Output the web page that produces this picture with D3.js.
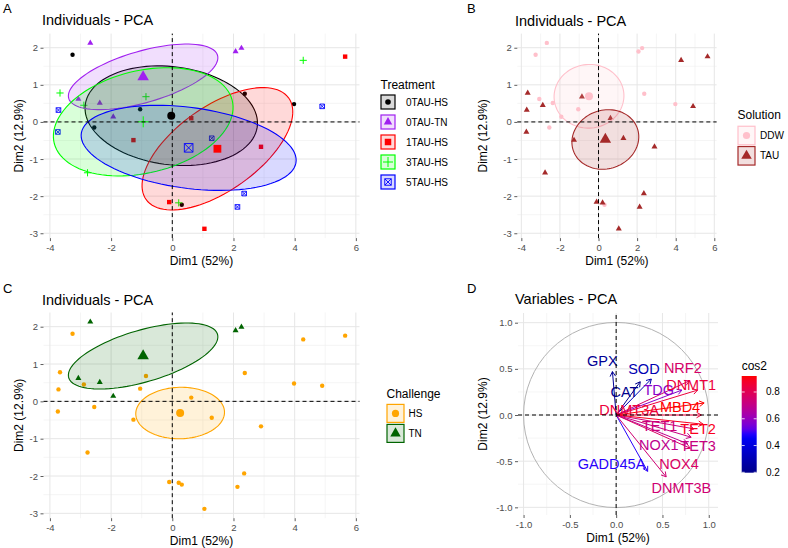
<!DOCTYPE html>
<html>
<head>
<meta charset="utf-8">
<script src="https://cdn.jsdelivr.net/npm/d3@7"></script>
<style>
  body { margin: 0; background: #fff; }
  svg text { font-family: "Liberation Sans", Arial, Helvetica, sans-serif; }
</style>
</head>
<body>
<svg id="chart" width="788" height="548"></svg>
<script>
// ---- data: individuals (PCA coordinates on Dim1 / Dim2) ----
const indTreatment = [
  "0TAU-HS", "0TAU-HS", "0TAU-HS", "0TAU-HS", "0TAU-HS", "0TAU-HS",
  "0TAU-TN", "0TAU-TN", "0TAU-TN", "0TAU-TN", "0TAU-TN", "0TAU-TN",
  "1TAU-HS", "1TAU-HS", "1TAU-HS", "1TAU-HS", "1TAU-HS", "1TAU-HS",
  "3TAU-HS", "3TAU-HS", "3TAU-HS", "3TAU-HS", "3TAU-HS", "3TAU-HS",
  "5TAU-HS", "5TAU-HS", "5TAU-HS", "5TAU-HS", "5TAU-HS", "5TAU-HS"
];
const indDim1 = [
  -3.26, -1.05, -2.55, 2.37, 3.98, 0.31,
  -2.68, 2.07, 2.26, -3.07, -2.37, -1.93,
  5.65, 0.62, -1.27, 2.90, -0.10, 1.05,
  4.28, -3.67, -0.86, -2.89, -2.77, 0.21,
  -3.72, -3.74, 4.90, 1.29, 2.35, 2.13
];
const indDim2 = [
  1.81, 0.34, -0.15, 0.76, 0.48, -2.23,
  2.13, 1.90, 1.99, 0.62, 0.51, 0.14,
  1.76, 0.10, -0.49, -0.67, -2.16, -2.88,
  1.66, 0.78, 0.68, 0.45, -1.37, -2.18,
  0.32, -0.27, 0.42, -0.44, -1.93, -2.29
];

const treatments = ["0TAU-HS", "0TAU-TN", "1TAU-HS", "3TAU-HS", "5TAU-HS"];
const treatmentColors = ["#000000", "#A020F0", "#FF0000", "#00FF00", "#0000FF"];
const treatmentShapes = ["circle", "triangle", "square", "plus", "squareX"];

const solutions = ["DDW", "TAU"];
const solutionColors = ["#FFC0CB", "#A52A2A"];
const solutionShapes = ["circle", "triangle"];

const challenges = ["HS", "TN"];
const challengeColors = ["#FFA500", "#006400"];
const challengeShapes = ["circle", "triangle"];

// ---- data: variables ----
const variables = ["GPX", "SOD", "NRF2", "CAT", "TDG", "DNMT1", "DNMT3A", "MBD4",
  "TET1", "TET2", "TET3", "NOX1", "NOX4", "GADD45A", "DNMT3B"];
const varDim1 = [-0.04, 0.38, 0.79, 0.26, 0.71, 0.88, 0.92, 0.95, 0.84, 0.94, 0.81, 0.77, 0.80, 0.34, 0.54];
const varDim2 = [0.47, 0.39, 0.37, 0.36, 0.27, 0.27, 0.00, 0.13, -0.15, -0.10, -0.24, -0.31, -0.36, -0.61, -0.67];
// where the (repelled) labels ended up, in Dim units
const labelDim1 = [-0.15, 0.30, 0.72, 0.09, 0.46, 0.81, 0.14, 0.69, 0.47, 0.885, 0.885, 0.46, 0.68, -0.05, 0.705];
const labelDim2 = [0.59, 0.505, 0.516, 0.253, 0.278, 0.332, 0.061, 0.09, -0.119, -0.152, -0.332, -0.325, -0.523, -0.523, -0.787];

const indTicksX = [-4, -2, 0, 2, 4, 6];
const indMinorX = [-3, -1, 1, 3, 5];
const indTicksY = [-3, -2, -1, 0, 1, 2];
const indMinorY = [-2.5, -1.5, -0.5, 0.5, 1.5];
const varTicks = [-1, -0.5, 0, 0.5, 1];
const varMinor = [-0.75, -0.25, 0.25, 0.75];
const cosTicks = [0.2, 0.4, 0.6, 0.8];

const svg = d3.select("#chart");
const FONT = '"Liberation Sans", Arial, Helvetica, sans-serif';

const inds = indDim1.map((v, i) => ({
  x: v, y: indDim2[i],
  treatment: indTreatment[i],
  solution: indTreatment[i].startsWith("0TAU") ? "DDW" : "TAU",
  challenge: indTreatment[i].endsWith("TN") ? "TN" : "HS"
}));

function expand(ext, m) {
  const w = ext[1] - ext[0];
  return [ext[0] - w * m, ext[1] + w * m];
}
const indXDomain = expand(d3.extent(indDim1), 0.05);
const indYDomain = expand(d3.extent(indDim2), 0.05);

// symbol sizes (px) per role
const sizes = {
  small: { circle: 4.4, triangle: 6, square: 4.4, plus: 3.6, squareX: 4.6 },
  mean: { circle: 8, triangle: 11.5, square: 7.8, plus: 5.5, squareX: 8.6 },
  keyA: { circle: 5.6, triangle: 8.5, square: 6.5, plus: 5, squareX: 6.5 },
  keyB: { circle: 7.2, triangle: 10.5, square: 7, plus: 5, squareX: 7 }
};
const filledShape = { circle: true, triangle: true, square: true, plus: false, squareX: false };

function symbolPath(shape, s) {
  if (shape === "circle") {
    const r = s / 2;
    return `M${-r},0A${r},${r} 0 1,1 ${r},0A${r},${r} 0 1,1 ${-r},0Z`;
  }
  if (shape === "triangle") {
    const a = s, h = a * Math.sqrt(3) / 2;
    return `M0,${-2 * h / 3}L${a / 2},${h / 3}L${-a / 2},${h / 3}Z`;
  }
  if (shape === "square") {
    const a = s / 2;
    return `M${-a},${-a}H${a}V${a}H${-a}Z`;
  }
  if (shape === "plus") {
    return `M${-s},0H${s}M0,${-s}V${s}`;
  }
  const a = s / 2;
  return `M${-a},${-a}H${a}V${a}H${-a}Z M${-a},${-a}L${a},${a}M${a},${-a}L${-a},${a}`;
}

function drawSymbol(g, shape, s, color, x, y) {
  const p = g.append("path")
    .attr("d", symbolPath(shape, s))
    .attr("transform", `translate(${x},${y})`);
  if (filledShape[shape]) p.attr("fill", color).attr("stroke", "none");
  else p.attr("fill", "none").attr("stroke", color).attr("stroke-width", shape === "plus" ? 1 : 0.9);
  return p;
}

// 95% confidence ellipse of the group mean (as in ggpubr stat_conf_ellipse)
function confEllipse(xs, ys) {
  const n = xs.length, mx = d3.mean(xs), my = d3.mean(ys);
  let sxx = 0, syy = 0, sxy = 0;
  xs.forEach((v, i) => {
    sxx += (v - mx) * (v - mx);
    syy += (ys[i] - my) * (ys[i] - my);
    sxy += (v - mx) * (ys[i] - my);
  });
  sxx /= (n - 1) * n; syy /= (n - 1) * n; sxy /= (n - 1) * n;
  const sx = Math.sqrt(sxx), sy = Math.sqrt(syy);
  const d = Math.acos(sxy / (sx * sy));
  const t = Math.sqrt(5.991465);
  return d3.range(101).map(k => {
    const a = 2 * Math.PI * k / 100;
    return [mx + t * sx * Math.cos(a + d / 2), my + t * sy * Math.cos(a - d / 2)];
  });
}

function gridAndAxes(g, x, y, p, xt, xm, yt, ym, fmt) {
  const [x0, x1] = x.range(), [y0, y1] = y.range();
  const grid = g.append("g");
  grid.selectAll("line.vmin").data(xm).join("line")
    .attr("x1", d => x(d)).attr("x2", d => x(d)).attr("y1", y0).attr("y2", y1)
    .attr("stroke", "#EFEFEF").attr("stroke-width", 0.6);
  grid.selectAll("line.hmin").data(ym).join("line")
    .attr("y1", d => y(d)).attr("y2", d => y(d)).attr("x1", x0).attr("x2", x1)
    .attr("stroke", "#EFEFEF").attr("stroke-width", 0.6);
  grid.selectAll("line.vmaj").data(xt).join("line")
    .attr("x1", d => x(d)).attr("x2", d => x(d)).attr("y1", y0).attr("y2", y1)
    .attr("stroke", "#E6E6E6").attr("stroke-width", 1);
  grid.selectAll("line.hmaj").data(yt).join("line")
    .attr("y1", d => y(d)).attr("y2", d => y(d)).attr("x1", x0).attr("x2", x1)
    .attr("stroke", "#E6E6E6").attr("stroke-width", 1);

  const ax = g.append("g").attr("transform", `translate(0,${p.bottom})`)
    .call(d3.axisBottom(x).tickValues(xt).tickSize(3).tickPadding(3.5).tickFormat(fmt));
  const ay = g.append("g").attr("transform", `translate(${p.left},0)`)
    .call(d3.axisLeft(y).tickValues(yt).tickSize(3).tickPadding(2.5).tickFormat(fmt));
  [ax, ay].forEach(a => {
    a.select(".domain").remove();
    a.selectAll("line").attr("stroke", "#333333").attr("stroke-width", 0.8);
    a.selectAll("text").attr("fill", "#4D4D4D").style("font-size", "9.5px").style("font-family", FONT);
  });

  g.append("text").attr("x", p.letterX).attr("y", p.letterY).text(p.letter)
    .style("font-size", "13px").attr("fill", "#000");
  g.append("text").attr("x", p.titleX).attr("y", p.titleY).text(p.title)
    .style("font-size", "14.5px").attr("fill", "#000");
  g.append("text").attr("x", (p.left + p.right) / 2).attr("y", p.bottom + 26.5)
    .attr("text-anchor", "middle").text("Dim1 (52%)").style("font-size", "12px");
  g.append("text").attr("transform", `translate(${p.ytitleX},${(p.top + p.bottom) / 2}) rotate(-90)`)
    .attr("text-anchor", "middle").text("Dim2 (12.9%)").style("font-size", "12px");
}

function zeroLines(g, x, y) {
  const [x0, x1] = x.range(), [y0, y1] = y.range();
  g.append("line").attr("x1", x0).attr("x2", x1).attr("y1", y(0)).attr("y2", y(0))
    .attr("stroke", "#000").attr("stroke-width", 1).attr("stroke-dasharray", "4,3");
  g.append("line").attr("x1", x(0)).attr("x2", x(0)).attr("y1", y0).attr("y2", y1)
    .attr("stroke", "#000").attr("stroke-width", 1).attr("stroke-dasharray", "4,3");
}

function legend(g, L) {
  g.append("text").attr("x", L.x).attr("y", L.titleY).text(L.title).style("font-size", "12px");
  L.groups.forEach((grp, i) => {
    const cy = L.firstY + i * L.pitch;
    g.append("rect").attr("x", L.x + 0.5).attr("y", cy - L.h / 2).attr("width", L.w).attr("height", L.h)
      .attr("fill", L.colors[i]).attr("fill-opacity", 0.15)
      .attr("stroke", L.colors[i]).attr("stroke-width", 1.2);
    drawSymbol(g, L.shapes[i], L.sizes[L.shapes[i]], L.colors[i], L.x + 0.5 + L.w / 2, cy);
    g.append("text").attr("x", L.textX).attr("y", cy).attr("dy", "0.35em").text(grp)
      .style("font-size", "10px");
  });
}

function indPanel(p) {
  const g = svg.append("g");
  const x = d3.scaleLinear().domain(indXDomain).range([p.left, p.right]);
  const y = d3.scaleLinear().domain(indYDomain).range([p.bottom, p.top]);
  gridAndAxes(g, x, y, p, indTicksX, indMinorX, indTicksY, indMinorY, d => String(d));

  const colorOf = grp => p.colors[p.groups.indexOf(grp)];
  const shapeOf = grp => p.shapes[p.groups.indexOf(grp)];

  // individual points
  const pts = g.append("g");
  inds.forEach(d => {
    const grp = d[p.key];
    drawSymbol(pts, shapeOf(grp), sizes.small[shapeOf(grp)], colorOf(grp), x(d.x), y(d.y));
  });

  // confidence ellipses
  const line = d3.line().x(d => x(d[0])).y(d => y(d[1]));
  p.groups.forEach((grp, i) => {
    const sub = inds.filter(d => d[p.key] === grp);
    const e = confEllipse(sub.map(d => d.x), sub.map(d => d.y));
    g.append("path").attr("d", line(e) + "Z")
      .attr("fill", p.colors[i]).attr("fill-opacity", 0.15)
      .attr("stroke", p.colors[i]).attr("stroke-width", 1.1);
  });

  // group means
  p.groups.forEach((grp, i) => {
    const sub = inds.filter(d => d[p.key] === grp);
    const mx = d3.mean(sub, d => d.x), my = d3.mean(sub, d => d.y);
    drawSymbol(g, p.shapes[i], sizes.mean[p.shapes[i]], p.colors[i], x(mx), y(my));
  });

  zeroLines(g, x, y);
  legend(g, p.legend);
}

// ---- Panel A ----
indPanel({
  left: 43.5, right: 359.5, top: 33.6, bottom: 238.1,
  letter: "A", letterX: 3, letterY: 12.7, title: "Individuals - PCA", titleX: 42, titleY: 25,
  ytitleX: 23,
  key: "treatment", groups: treatments, colors: treatmentColors, shapes: treatmentShapes,
  legend: { x: 380.5, title: "Treatment", titleY: 89, groups: treatments, colors: treatmentColors,
    shapes: treatmentShapes, sizes: sizes.keyA, firstY: 102, pitch: 20, w: 14, h: 14, textX: 406 }
});

// ---- Panel B ----
indPanel({
  left: 517.3, right: 716.6, top: 33.6, bottom: 238.1,
  letter: "B", letterX: 467, letterY: 12.7, title: "Individuals - PCA", titleX: 515, titleY: 25.7,
  ytitleX: 486.5,
  key: "solution", groups: solutions, colors: solutionColors, shapes: solutionShapes,
  legend: { x: 737.5, title: "Solution", titleY: 119, groups: solutions, colors: solutionColors,
    shapes: solutionShapes, sizes: sizes.keyB, firstY: 135.5, pitch: 20.3, w: 17, h: 18.5, textX: 760 }
});

// ---- Panel C ----
indPanel({
  left: 43.5, right: 359.5, top: 312.5, bottom: 518.2,
  letter: "C", letterX: 3, letterY: 293.3, title: "Individuals - PCA", titleX: 42, titleY: 305,
  ytitleX: 23,
  key: "challenge", groups: challenges, colors: challengeColors, shapes: challengeShapes,
  legend: { x: 386.5, title: "Challenge", titleY: 397.5, groups: challenges, colors: challengeColors,
    shapes: challengeShapes, sizes: sizes.keyB, firstY: 413.4, pitch: 20, w: 17, h: 18, textX: 408.5 }
});

// ---- Panel D: variables ----
(function () {
  const p = {
    left: 518, right: 718, top: 313, bottom: 515,
    letter: "D", letterX: 467, letterY: 293.3, title: "Variables - PCA", titleX: 515, titleY: 304.3,
    ytitleX: 486.5
  };
  const g = svg.append("g");
  const x = d3.scaleLinear().domain([-1.06, 1.10]).range([p.left, p.right]);
  const y = d3.scaleLinear().domain([-1.083, 1.105]).range([p.bottom, p.top]);
  gridAndAxes(g, x, y, p, varTicks, varMinor, varTicks, varMinor, d => d.toFixed(1));

  const vars = variables.map((name, i) => ({
    name, x: varDim1[i], y: varDim2[i], lx: labelDim1[i], ly: labelDim2[i],
    cos2: varDim1[i] * varDim1[i] + varDim2[i] * varDim2[i]
  }));
  const cExt = d3.extent(vars, d => d.cos2);
  const color = d3.scaleLinear().domain([cExt[0], 0.48, cExt[1]])
    .range(["#00008B", "#0000FF", "#FF0000"]).interpolate(d3.interpolateLab);

  // correlation circle
  g.append("circle").attr("cx", x(0)).attr("cy", y(0)).attr("r", x(1) - x(0))
    .attr("fill", "none").attr("stroke", "#B3B3B3").attr("stroke-width", 1);

  // arrows
  const head = 5.5, ang = Math.PI / 6;
  vars.forEach(d => {
    const x1 = x(d.x), y1 = y(d.y);
    const th = Math.atan2(y1 - y(0), x1 - x(0));
    const c = color(d.cos2);
    g.append("line").attr("x1", x(0)).attr("y1", y(0)).attr("x2", x1).attr("y2", y1)
      .attr("stroke", c).attr("stroke-width", 1);
    g.append("path")
      .attr("d", `M${x1 - head * Math.cos(th - ang)},${y1 - head * Math.sin(th - ang)}L${x1},${y1}L${x1 - head * Math.cos(th + ang)},${y1 - head * Math.sin(th + ang)}`)
      .attr("fill", "none").attr("stroke", c).attr("stroke-width", 1);
  });

  // labels
  g.append("g").selectAll("text").data(vars).join("text")
    .attr("x", d => x(d.lx)).attr("y", d => y(d.ly)).attr("dy", "0.36em")
    .attr("text-anchor", "middle").attr("fill", d => color(d.cos2))
    .style("font-size", "14.5px").text(d => d.name);

  zeroLines(g, x, y);

  // colourbar legend
  const barX = 741.7, barW = 15, barTop = 376, barBot = 472.7;
  g.append("text").attr("x", barX).attr("y", 370).text("cos2").style("font-size", "12px");
  const grad = svg.append("defs").append("linearGradient").attr("id", "cosgrad")
    .attr("x1", 0).attr("y1", 1).attr("x2", 0).attr("y2", 0);
  d3.range(0, 1.0001, 0.05).forEach(t => {
    grad.append("stop").attr("offset", t)
      .attr("stop-color", color(cExt[0] + t * (cExt[1] - cExt[0])));
  });
  g.append("rect").attr("x", barX).attr("y", barTop).attr("width", barW).attr("height", barBot - barTop)
    .attr("fill", "url(#cosgrad)");
  const cy = d3.scaleLinear().domain(cExt).range([barBot, barTop]);
  cosTicks.forEach(v => {
    g.append("line").attr("x1", barX).attr("x2", barX + 3).attr("y1", cy(v)).attr("y2", cy(v))
      .attr("stroke", "#fff").attr("stroke-width", 0.8);
    g.append("line").attr("x1", barX + barW - 3).attr("x2", barX + barW).attr("y1", cy(v)).attr("y2", cy(v))
      .attr("stroke", "#fff").attr("stroke-width", 0.8);
    g.append("text").attr("x", 766).attr("y", cy(v)).attr("dy", "0.35em").text(v.toFixed(1))
      .style("font-size", "10px").attr("fill", "#000");
  });
})();
</script>
</body>
</html>
